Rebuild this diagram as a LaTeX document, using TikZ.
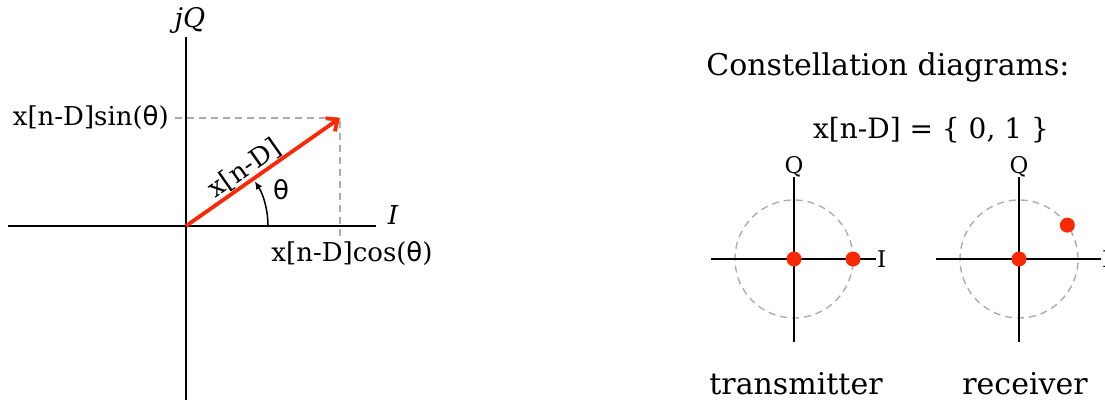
\documentclass[tikz,border=0pt]{standalone}
\usepackage{fontspec}
\setmainfont{DejaVu Serif}
\newfontfamily\symfont{DejaVu Sans}
\definecolor{vred}{RGB}{250,40,5}
\usetikzlibrary{arrows.meta, positioning, calc}

\begin{document}
\begin{tikzpicture}[x=1pt, y=1pt,
  axis/.style={line width=1.6pt},
  guide/.style={draw=gray!65, line width=1.4pt, dash pattern=on 7pt off 5pt},
  vec/.style={-{Straight Barb[length=9pt, width=16pt]}, line width=3.8pt, draw=vred},
  dot/.style={circle, fill=vred, inner sep=0pt, minimum size=15pt},
  lbl/.style={inner sep=1pt, font=\fontsize{26}{28}\selectfont},
  small/.style={inner sep=1pt, font=\fontsize{23}{25}\selectfont},
  big/.style={inner sep=0pt, font=\fontsize{30}{34}\selectfont}
]
\useasboundingbox (0,0) rectangle (1105,400);

% phasor plane
\coordinate (o) at (186,174);
\coordinate (xl) at (8,174);
\coordinate (xr) at (376,174);
\coordinate (yt) at (186,363);
\coordinate (yb) at (186,0);
\coordinate (tip) at (340,282);
\coordinate (sinl) at (175,282);
\coordinate (cosl) at (340,164);

\draw[guide] (sinl) -- (tip) -- (cosl);
\draw[axis] (xl) -- (xr);
\draw[axis] (yt) -- (yb);
\draw[vec] (o) -- (tip) node[pos=0.43, above, sloped, lbl, inner sep=0pt] {x[n-D]};
\draw[-{Latex[length=8pt, width=7pt]}, line width=1.5pt] (268,174) arc[start angle=0, end angle=33, radius=82];

\node[lbl, font=\fontsize{27}{29}\selectfont\itshape] (jq) at (190,380) {jQ};
\node[lbl, font=\fontsize{26}{28}\selectfont\itshape] (iax) at (393,185) {I};
\node[lbl, font=\fontsize{26}{28}\symfont] (theta) at (281,210) {θ};
\node[lbl, anchor=east] (sinv) at (170,282) {x[n-D]sin({\symfont θ})};
\node[lbl] (cosv) at (352,146) {x[n-D]cos({\symfont θ})};

% constellations
\node[big] (title) at (888,333) {Constellation diagrams:};
\node[lbl, font=\fontsize{28}{30}\selectfont] (set) at (931,270) {x[n-D] = \{ 0, 1 \}};

\coordinate (tx) at (794,141);
\coordinate (rx) at (1019,141);

\draw[guide] (tx) circle[radius=59];
\draw[axis] ($(tx)+(-83,0)$) -- ($(tx)+(82,0)$);
\draw[axis] ($(tx)+(0,82)$) -- ($(tx)+(0,-83)$);
\node[dot] (tx0) at (tx) {};
\node[dot] (tx1) at ($(tx)+(59,0)$) {};
\node[small, above, inner sep=0pt] (txq) at ($(tx)+(0,82)$) {Q};
\node[small, right] (txi) at ($(tx)+(82,0)$) {I};
\node[big] (txname) at (796,16) {transmitter};

\draw[guide] (rx) circle[radius=59];
\draw[axis] ($(rx)+(-83,0)$) -- ($(rx)+(82,0)$);
\draw[axis] ($(rx)+(0,82)$) -- ($(rx)+(0,-83)$);
\node[dot] (rx0) at (rx) {};
\node[dot] (rx1) at ($(rx)+(35:59)$) {};
\node[small, above, inner sep=0pt] (rxq) at ($(rx)+(0,82)$) {Q};
\node[small, right] (rxi) at ($(rx)+(82,0)$) {I};
\node[big] (rxname) at (1025,16) {receiver};
\end{tikzpicture}
\end{document}
